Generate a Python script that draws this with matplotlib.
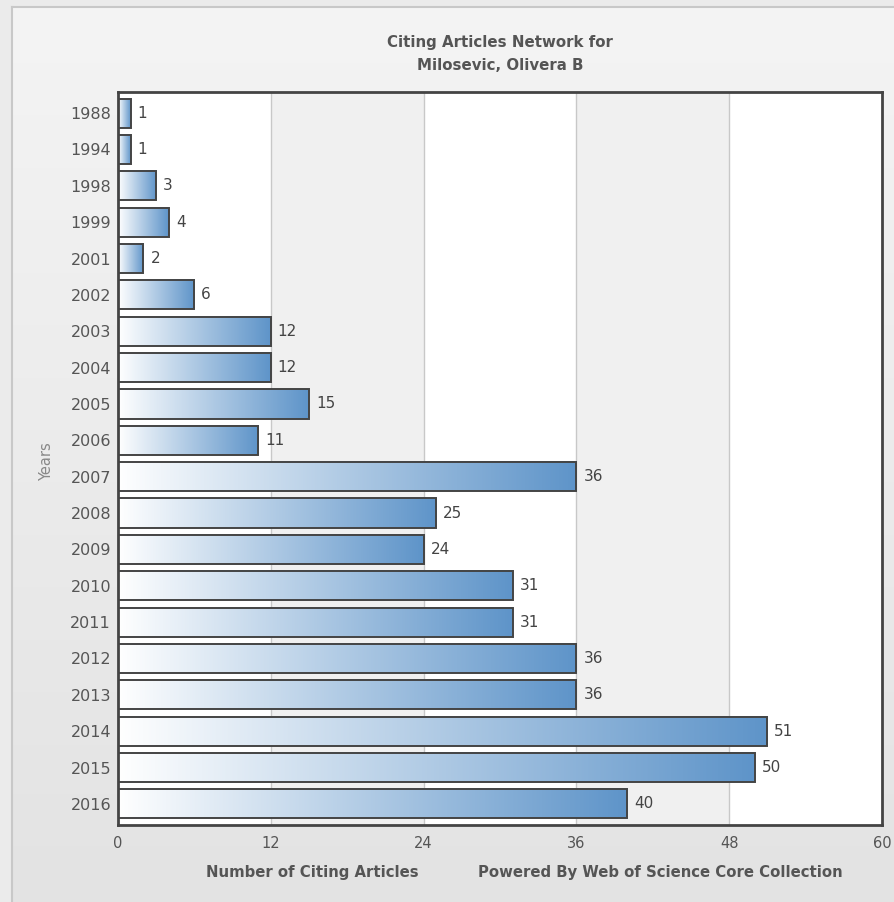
import numpy as np
import matplotlib
matplotlib.use("Agg")
import matplotlib.pyplot as plt
from matplotlib.colors import LinearSegmentedColormap

years = ["1988", "1994", "1998", "1999", "2001", "2002", "2003", "2004", "2005", "2006",
         "2007", "2008", "2009", "2010", "2011", "2012", "2013", "2014", "2015", "2016"]
counts = [1, 1, 3, 4, 2, 6, 12, 12, 15, 11, 36, 25, 24, 31, 31, 36, 36, 51, 50, 40]
x_ticks = [0, 12, 24, 36, 48, 60]

title_lines = ["Citing Articles Network for", "Milosevic, Olivera B"]
x_label = "Number of Citing Articles"
credit = "Powered By Web of Science Core Collection"
y_label = "Years"

W, H = 895, 902
fig = plt.figure(figsize=(W / 100, H / 100), dpi=100)
fig.patch.set_facecolor("#ebebeb")

# panel background with soft vertical gradient
bg = fig.add_axes([12 / W, 0, 1 - 12 / W, 1 - 7 / H], zorder=-10)
grad = np.linspace(0, 1, 256).reshape(-1, 1)
bg_cmap = LinearSegmentedColormap.from_list("bg", ["#f4f4f4", "#e3e3e3"])
bg.imshow(grad, aspect="auto", cmap=bg_cmap, extent=(0, 1, 0, 1), origin="upper")
bg.set_xlim(0, 1)
bg.set_ylim(0, 1)
bg.set_xticks([])
bg.set_yticks([])
for side in ["right", "bottom"]:
    bg.spines[side].set_visible(False)
for side in ["left", "top"]:
    bg.spines[side].set_color("#c8c8c8")
    bg.spines[side].set_linewidth(1.5)

ax = fig.add_axes([118 / W, 1 - 825 / H, (882 - 118) / W, (825 - 92) / H])
ax.set_facecolor("white")

pos = np.arange(len(years))
bar_h = 0.8

# alternating bands and grid
for i in range(1, len(x_ticks) - 1, 2):
    ax.axvspan(x_ticks[i], x_ticks[i + 1], color="#f0f0f0", zorder=0, lw=0)
for t in x_ticks[1:-1]:
    ax.axvline(t, color="#c8c8c8", lw=1, zorder=1)

bar_cmap = LinearSegmentedColormap.from_list("bar", ["#ffffff", "#5e94c9"])
hgrad = np.linspace(0, 1, 256).reshape(1, -1)
bars = ax.barh(pos, counts, height=bar_h, facecolor="none",
               edgecolor="#444444", linewidth=1.4, zorder=3)
for b in bars:
    x0, y0 = b.get_x(), b.get_y()
    ax.imshow(hgrad, aspect="auto", cmap=bar_cmap, zorder=2,
              extent=(x0, x0 + b.get_width(), y0 + b.get_height(), y0))

for p, v in zip(pos, counts):
    ax.annotate(str(v), (v, p), xytext=(5, 0), textcoords="offset points",
                va="center", ha="left", fontsize=11, color="#444444")

ax.set_xlim(0, 60)
ax.set_ylim(len(years) - 1 + 0.58, -0.58)
ax.set_xticks(x_ticks)
ax.set_yticks(pos)
ax.set_yticklabels(years)
ax.tick_params(length=0, labelcolor="#555555")
ax.tick_params(axis="y", pad=5, labelsize=11.5)
ax.tick_params(axis="x", pad=8, labelsize=10.5)
for s in ax.spines.values():
    s.set_color("#444444")
    s.set_linewidth(2)

for k, line in enumerate(title_lines):
    fig.text(500 / W, 1 - (42 + 24 * k) / H, line, ha="center", va="center",
             fontsize=10.8, fontweight="bold", color="#555555")
fig.text(312 / W, 1 - 873 / H, x_label, ha="center", va="center", fontsize=10.7,
         fontweight="bold", color="#555555")
fig.text(660 / W, 1 - 873 / H, credit, ha="center", va="center", fontsize=10.7,
         fontweight="bold", color="#555555")
fig.text(47 / W, 1 - 462 / H, y_label, ha="center", va="center", rotation=90,
         fontsize=10.5, color="#888888")

fig.savefig("out.png", dpi=100, facecolor=fig.get_facecolor())
